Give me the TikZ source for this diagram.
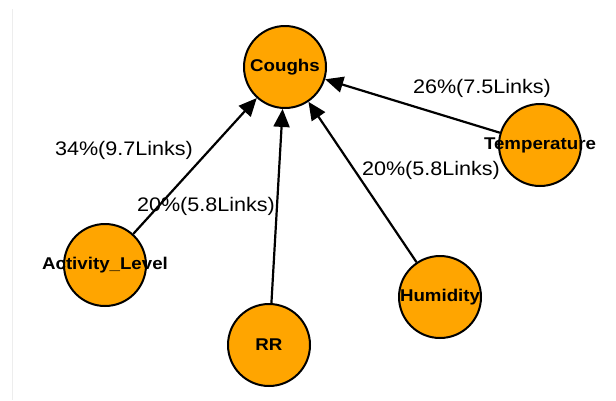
\documentclass[tikz,border=0pt]{standalone}
\usepackage{fontspec}
\setmainfont{Liberation Sans}[FakeStretch=1.1]
\usetikzlibrary{arrows.meta}
\definecolor{nodeorange}{HTML}{FFA500}
\begin{document}
\begin{tikzpicture}[x=1pt,y=-1pt,
  var/.style={circle, draw=black, line width=2pt, fill=nodeorange,
    minimum size=82pt, inner sep=0pt},
  varname/.style={font=\fontsize{17}{18}\selectfont\bfseries, text=black},
  link/.style={-{Triangle[length=18pt,width=16pt]}, line width=2.2pt, draw=black},
  share/.style={font=\fontsize{19.6}{22}\selectfont, inner sep=0pt, text=black}]
\useasboundingbox (0,0) rectangle (616,400);
% thin frame line on the left
\draw[line width=0.8pt, black!7] (12,9) -- (12,400);

% variables
\node[var, label={[varname]center:Coughs}]          (cough) at (285,67)  {};
\node[var, label={[varname]center:Temperature}]     (temp)  at (540,145) {};
\node[var, label={[varname]center:Activity\_Level}] (act)   at (105,265) {};
\node[var, label={[varname]center:RR}]              (rr)    at (269,345) {};
\node[var, label={[varname]center:Humidity}]        (hum)   at (440,297) {};

% influences on Coughs
\draw[link] (act)  -- (cough);
\draw[link] (rr)   -- (cough);
\draw[link] (hum)  -- (cough);
\draw[link] (temp) -- (cough);

% link shares
\node[share] (lt) at (482,88)  {26\%(7.5Links)};
\node[share] (la) at (124,150) {34\%(9.7Links)};
\node[share] (lr) at (206,206) {20\%(5.8Links)};
\node[share] (lh) at (431,170) {20\%(5.8Links)};
\end{tikzpicture}
\end{document}
